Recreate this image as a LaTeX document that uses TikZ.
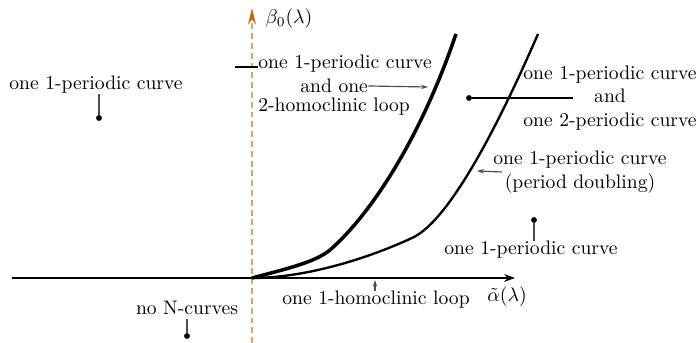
\documentclass[tikz,border=0pt]{standalone}
\usepackage{amsmath}
\usepackage{amssymb}
\usepackage[dvipsnames]{xcolor}
\usepackage{tikz}
\usetikzlibrary{arrows.meta}
\definecolor{axisorange}{RGB}{200,100,10}

\begin{document}
\begin{tikzpicture}[x=0.51pt, y=-0.51pt,
    lab/.style = {align=center, inner sep=0pt},
    dot/.style = {circle, fill, inner sep=0pt, minimum size=3pt},
    lead/.style = {draw=black!70, line width=0.6pt},
    tip/.style = {lead, -{Stealth[length=3.5pt, width=2.2pt]}}]
    \useasboundingbox (0,0) rectangle (698,343);
    % axes
    \coordinate (o) at (252,278);
    \coordinate (xb) at (12,278);
    \coordinate (xa) at (515,278);
    \coordinate (yb) at (252,343);
    \coordinate (ya) at (252,8);
    \draw[axisorange!60, line width=0.8pt, dash pattern=on 3pt off 2pt,
        -{Stealth[color=axisorange, length=8.5pt, width=4pt]}] (yb) -- (ya);
    \draw[line width=1pt, -{Stealth[length=5.5pt, width=4pt]}] (xb) -- (xa);
    \node[inner sep=0pt] (b) at (289,19) {$\beta_0(\lambda)$};
    \node[inner sep=0pt] (a) at (507,297) {$\tilde{\alpha}(\lambda)$};
    % curves
    \draw[line width=1.8pt] (o) .. controls (290,268) and (315,262) .. (330,250)
        .. controls (370,215) and (420,140) .. (456,34);
    \draw[line width=1.2pt] (o) .. controls (300,278) and (360,262) .. (412,238)
        .. controls (452,220) and (505,110) .. (538,34);
    % regions
    \node[lab] (1) at (96,85) {one 1-periodic curve};
    \node[dot] (d1) at (99,118) {};
    \draw[lead] (d1 |- 1.south) -- (d1);
    \node[anchor=west, inner sep=0pt] (2) at (258,64) {one 1-periodic curve};
    \node[anchor=west, inner sep=0pt] (3) at (300,86) {and one};
    \node[anchor=west, inner sep=0pt] (4) at (258,107) {2-homoclinic loop};
    \coordinate (c2) at (235,67);
    \draw[line width=0.6pt] (c2) -- (c2 -| 2.west);
    \coordinate (c3) at (428,87);
    \draw[tip] (3.east) -- (c3);
    \node[lab] (5) at (610,98) {one 1-periodic curve\\and\\one 2-periodic curve};
    \node[dot] (d5) at (469,98) {};
    \coordinate (c5) at (573,98);
    \draw[line width=0.6pt] (d5) -- (c5);
    \node[lab] (6) at (580,172) {one 1-periodic curve\\(period doubling)};
    \coordinate (c6) at (477,171);
    \draw[tip] ([xshift=4.5pt]6.west) -- (c6);
    \node[lab] (7) at (531,250) {one 1-periodic curve};
    \node[dot] (d7) at (534,220) {};
    \draw[lead] (d7) -- (d7 |- 7.north);
    \node[lab] (8) at (376,300) {one 1-homoclinic loop};
    \coordinate (c8) at (375,280);
    \draw[tip] (8.north -| c8) -- (c8);
    \node[lab] (9) at (187,308) {no N-curves};
    \node[dot] (d9) at (187,336) {};
    \draw[lead, shorten <=2pt] (9.south) -- (d9);
\end{tikzpicture}
\end{document}
